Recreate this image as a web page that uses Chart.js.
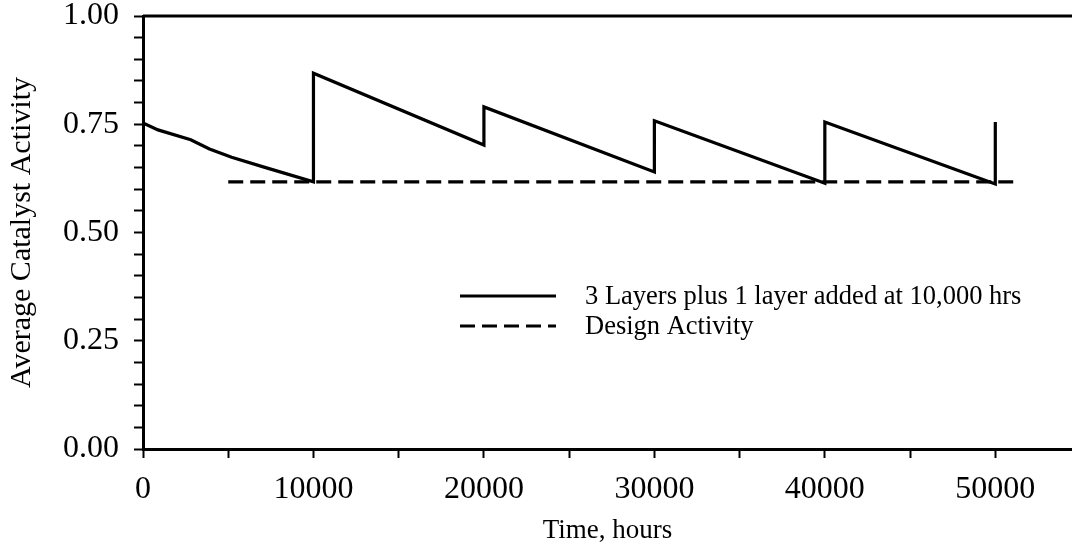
<!DOCTYPE html>
<html>
<head>
<meta charset="utf-8">
<title>Average Catalyst Activity</title>
<script src="https://cdn.jsdelivr.net/npm/chart.js@4/dist/chart.umd.min.js"></script>
<style>
  html, body { margin: 0; padding: 0; background: #fff; overflow: hidden; }
  #wrap { width: 1072px; height: 544px; }
</style>
</head>
<body>
<div id="wrap"><canvas id="c" width="1072" height="544"></canvas></div>
<script>
// Operating hours and average catalyst activity for the layered reactor
const layeredHours    = [0, 880, 2800, 3900, 5200, 7100, 10000, 10000, 20000, 20000, 30000, 30000, 40000, 40000, 50000, 50000];
const layeredActivity = [0.753, 0.737, 0.714, 0.693, 0.674, 0.651, 0.617, 0.868, 0.702, 0.790, 0.640, 0.758, 0.614, 0.755, 0.612, 0.755];

// Design activity threshold
const designHours    = [5000, 51300];
const designActivity = [0.617, 0.617];

// Axis tick positions (labelled ones are every 10000 h and every 0.25)
const xTickValues = [0, 5000, 10000, 15000, 20000, 25000, 30000, 35000, 40000, 45000, 50000];
const xTickLabels = ['0', '', '10000', '', '20000', '', '30000', '', '40000', '', '50000'];
const yTickValues = [0, 0.05, 0.1, 0.15, 0.2, 0.25, 0.3, 0.35, 0.4, 0.45, 0.5,
                     0.55, 0.6, 0.65, 0.7, 0.75, 0.8, 0.85, 0.9, 0.95, 1];
const yTickLabels = ['0.00', '', '', '', '', '0.25', '', '', '', '', '0.50',
                     '', '', '', '', '0.75', '', '', '', '', '1.00'];

const seriesLabels = ['3 Layers plus 1 layer added at 10,000 hrs', 'Design Activity'];
const xTitle = 'Time, hours';
const yTitle = 'Average Catalyst Activity';

const SERIF = '"Liberation Serif", "DejaVu Serif", "Times New Roman", serif';

const toPoints = (xs, ys) => xs.map((x, i) => ({ x: x, y: ys[i] }));

// Top frame line of the plot box
const topFrame = {
  id: 'topFrame',
  afterDraw(chart) {
    const { ctx, chartArea } = chart;
    ctx.save();
    ctx.strokeStyle = '#000';
    ctx.lineWidth = 3;
    ctx.beginPath();
    ctx.moveTo(chartArea.left, chartArea.top);
    ctx.lineTo(chartArea.right + 2, chartArea.top);
    ctx.stroke();
    ctx.restore();
  }
};

// Key placed inside the plot, lower right
const insetKey = {
  id: 'insetKey',
  afterDraw(chart) {
    const { ctx } = chart;
    const rows = [296, 326];
    ctx.save();
    chart.data.datasets.forEach((ds, i) => {
      const y = rows[i];
      ctx.strokeStyle = ds.borderColor;
      ctx.lineWidth = ds.borderWidth;
      ctx.setLineDash(ds.borderDash || []);
      ctx.beginPath();
      ctx.moveTo(460, y);
      ctx.lineTo(556, y);
      ctx.stroke();
      ctx.setLineDash([]);
      ctx.fillStyle = '#000';
      ctx.font = '26.5px ' + SERIF;
      ctx.textBaseline = 'middle';
      ctx.textAlign = 'left';
      ctx.fillText(ds.label, 585, y + 1);
    });
    ctx.restore();
  }
};

new Chart(document.getElementById('c'), {
  type: 'line',
  data: {
    datasets: [
      {
        label: seriesLabels[0],
        data: toPoints(layeredHours, layeredActivity),
        borderColor: '#000',
        borderWidth: 3.2,
        pointRadius: 0,
        tension: 0,
        fill: false
      },
      {
        label: seriesLabels[1],
        data: toPoints(designHours, designActivity),
        borderColor: '#000',
        borderWidth: 3.2,
        borderDash: [15, 7],
        pointRadius: 0,
        tension: 0,
        fill: false
      }
    ]
  },
  options: {
    responsive: false,
    animation: false,
    layout: { padding: { top: 16, right: 0, left: 0, bottom: 0 } },
    plugins: {
      legend: { display: false },
      tooltip: { enabled: false }
    },
    scales: {
      x: {
        type: 'linear',
        min: 0,
        max: 54500,
        afterBuildTicks(scale) { scale.ticks = xTickValues.map((v) => ({ value: v })); },
        afterFit(scale) {
          scale.height = 95;
          scale.paddingLeft = 0;
          scale.paddingRight = 0;
        },
        border: { display: true, color: '#000', width: 3 },
        grid: { display: true, drawOnChartArea: false, drawTicks: true, tickLength: 9, tickWidth: 2, tickColor: '#000' },
        ticks: {
          autoSkip: false,
          maxRotation: 0,
          minRotation: 0,
          padding: 12,
          color: '#000',
          font: { family: SERIF, size: 32 },
          callback: (v, i) => xTickLabels[i]
        },
        title: {
          display: true,
          text: xTitle,
          color: '#000',
          font: { family: SERIF, size: 27, lineHeight: 1 },
          padding: { top: 0, bottom: 0 }
        }
      },
      y: {
        type: 'linear',
        min: 0,
        max: 1,
        afterBuildTicks(scale) { scale.ticks = yTickValues.map((v) => ({ value: v })); },
        afterFit(scale) {
          scale.width = 143;
          scale.paddingTop = 0;
          scale.paddingBottom = 0;
        },
        border: { display: true, color: '#000', width: 3 },
        grid: { display: true, drawOnChartArea: false, drawTicks: true, tickLength: 9, tickWidth: 2, tickColor: '#000' },
        ticks: {
          autoSkip: false,
          padding: 15,
          color: '#000',
          font: { family: SERIF, size: 32 },
          callback: (v, i) => yTickLabels[i]
        },
        title: {
          display: true,
          text: yTitle,
          color: '#000',
          font: { family: SERIF, size: 30, lineHeight: 1 },
          padding: { top: 7, bottom: 0 }
        }
      }
    }
  },
  plugins: [topFrame, insetKey]
});
</script>
</body>
</html>
